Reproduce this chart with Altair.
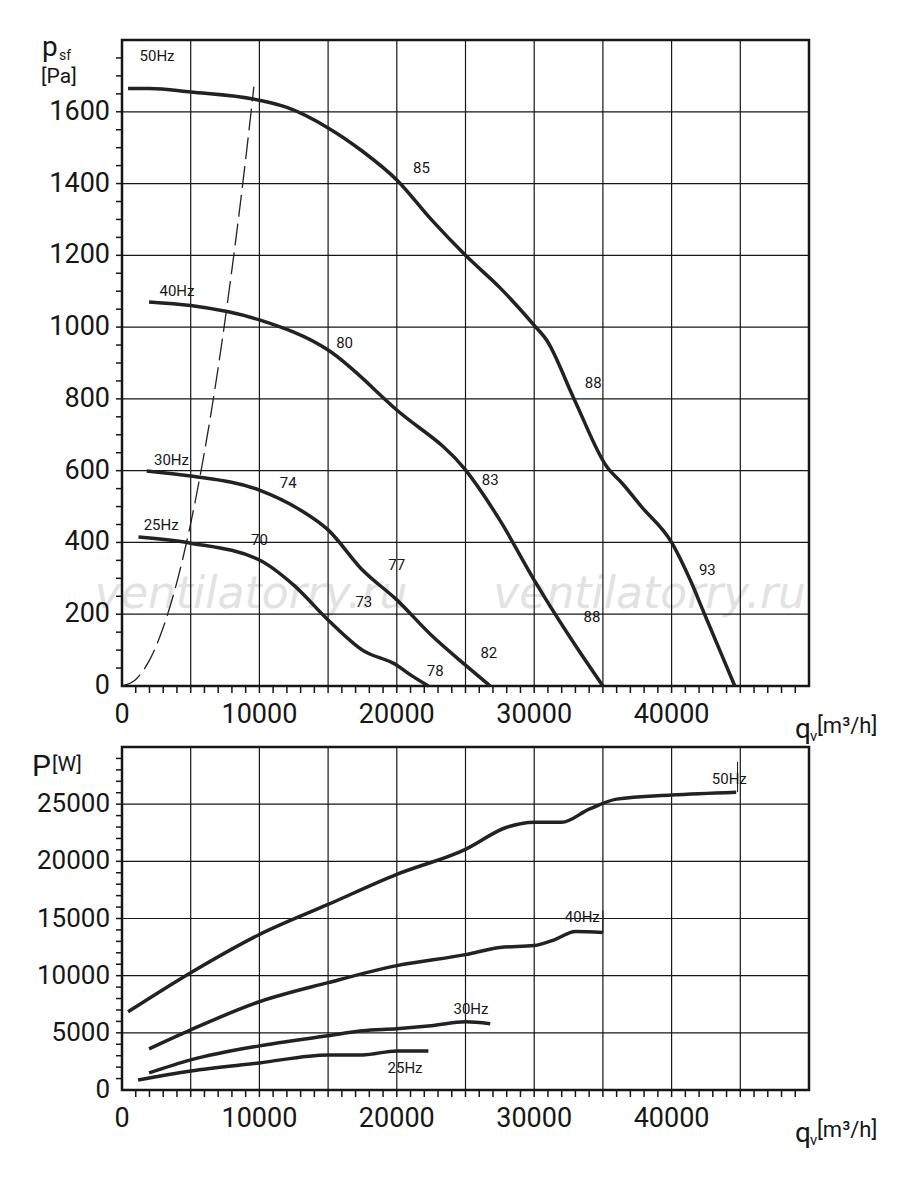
import pandas as pd
import altair as alt

FONT = "Roboto"

# --- pressure curves (q in m3/h, p in Pa) ---
q50 = [440, 2000, 5000, 10000, 12000, 15000, 17500, 20000, 22500, 25000, 27500, 30000, 30900, 32900, 35300, 36400, 37800, 40000, 41300, 42400, 44600]
p50 = [1665, 1665, 1655, 1632, 1612, 1555, 1490, 1410, 1300, 1200, 1110, 1005, 964, 800, 610, 565, 500, 400, 300, 200, 0]
q40 = [1970, 5000, 10000, 15000, 20000, 25000, 27500, 30000, 32500, 35000]
p40 = [1070, 1060, 1020, 936, 769, 602, 462, 295, 142, 0]
q30 = [1800, 5000, 10000, 13000, 15000, 17500, 20000, 22500, 25000, 26800]
p30 = [599, 585, 546, 490, 435, 323, 240, 142, 58, 0]
q25 = [1200, 5000, 10000, 12500, 15000, 17500, 20000, 21000, 22300]
p25 = [415, 398, 351, 281, 184, 100, 58, 31, 0]
q_sys = [0, 1000, 2000, 3000, 4000, 5000, 6000, 7000, 8000, 9000, 9600]
p_sys = [0, 18, 72, 163, 290, 453, 652, 887, 1160, 1468, 1670]

# --- power curves (W) ---
w50q = [440, 5000, 10000, 15000, 20000, 25000, 28000, 30000, 32000, 34000, 36000, 40000, 44700]
w50 = [6840, 10260, 13600, 16230, 18860, 21050, 22980, 23420, 23420, 24560, 25440, 25800, 26050]
w40q = [1970, 5000, 10000, 15000, 20000, 25000, 27500, 30000, 31500, 33000, 35000]
w40 = [3600, 5260, 7720, 9390, 10880, 11840, 12460, 12630, 13160, 13860, 13770]
w30q = [1970, 5000, 10000, 15000, 17500, 20000, 22500, 25000, 26800]
w30 = [1490, 2630, 3860, 4740, 5180, 5350, 5610, 5960, 5790]
w25q = [1170, 5000, 10000, 15000, 17500, 20000, 22300]
w25 = [880, 1670, 2370, 3070, 3070, 3420, 3420]

# labels
top_lbl_txt = ["50Hz", "40Hz", "30Hz", "25Hz", "85", "88", "93", "80", "83", "88", "74", "77", "82", "70", "73", "78"]
top_lbl_q = [2550, 4000, 3600, 2850, 21800, 34300, 42600, 16200, 26800, 34200, 12100, 20000, 26700, 10000, 17600, 22800]
top_lbl_p = [1755, 1100, 630, 448, 1443, 844, 323, 955, 574, 192, 565, 337, 92, 407, 234, 42]
bot_lbl_txt = ["50Hz", "40Hz", "30Hz", "25Hz"]
bot_lbl_q = [44200, 33500, 25400, 20600]
bot_lbl_w = [27200, 15090, 7100, 1930]
lead_q = [44800, 35000]
lead_w1 = [26050, 13770]
lead_w2 = [28700, 15700]

# axes
x_grid = [5000, 10000, 15000, 20000, 25000, 30000, 35000, 40000, 45000]
x_minor = [v for v in range(1000, 50000, 1000)]
x_labels = [0, 10000, 20000, 30000, 40000]
p_grid = [200, 400, 600, 800, 1000, 1200, 1400, 1600]
p_minor = [v for v in range(50, 1800, 50)]
p_labels = [0, 200, 400, 600, 800, 1000, 1200, 1400, 1600]
w_grid = [5000, 10000, 15000, 20000, 25000]
w_minor = [v for v in range(1000, 30000, 1000)]
w_labels = [0, 5000, 10000, 15000, 20000, 25000]

W = 687
H1 = 646
H2 = 343
INK = "#161616"

xs = alt.Scale(domain=[0, 50000], nice=False)


def txt(t, size, x, y, align="left", font=FONT):
    return alt.Chart(pd.DataFrame({"t": [t]})).mark_text(
        font=font, fontSize=size, align=align, color=INK).encode(
        x=alt.value(x), y=alt.value(y), text="t:N")


def panel(df, ymax, ygrid, yminor, ylabels, lbl_size, h):
    ys = alt.Scale(domain=[0, ymax], nice=False)
    xq = alt.X("q:Q", scale=xs, axis=None)
    yv = alt.Y("v:Q", scale=ys, axis=None)
    gx = alt.Chart(pd.DataFrame({"q": x_grid})).mark_rule(color=INK, strokeWidth=1.2).encode(
        x=xq, y=alt.value(0), y2=alt.value(h))
    gy = alt.Chart(pd.DataFrame({"v": ygrid})).mark_rule(color=INK, strokeWidth=1.2).encode(
        y=yv, x=alt.value(0), x2=alt.value(W))
    tx = alt.Chart(pd.DataFrame({"q": x_minor})).mark_rule(color=INK, strokeWidth=1.5).encode(
        x=xq, y=alt.value(h), y2=alt.value(h + 7))
    ty = alt.Chart(pd.DataFrame({"v": yminor})).mark_rule(color=INK, strokeWidth=1.5).encode(
        y=yv, x=alt.value(-6), x2=alt.value(0))
    lx = alt.Chart(pd.DataFrame({"q": x_labels})).mark_text(
        font=FONT, fontSize=27, color=INK, baseline="top", dy=16).encode(
        x=xq, y=alt.value(h), text=alt.Text("q:Q", format="d"))
    ly = alt.Chart(pd.DataFrame({"v": ylabels})).mark_text(
        font=FONT, fontSize=lbl_size, color=INK, align="right", baseline="middle", dx=-12).encode(
        y=yv, x=alt.value(0), text=alt.Text("v:Q", format="d"))
    box = alt.Chart(pd.DataFrame({"t": [0]})).mark_rect(filled=False, stroke=INK, strokeWidth=2.5).encode(
        x=alt.value(0), x2=alt.value(W), y=alt.value(0), y2=alt.value(h))
    lines = alt.Chart(df).mark_line(color="#222", strokeWidth=3.5, interpolate="monotone").encode(
        x=xq, y=yv, detail="s:N")
    ql = [txt("q", 28, W - 14, h + 44), txt("v", 15, W + 1, h + 50), txt("[m³/h]", 22, W + 8, h + 40)]
    return [gx, gy, tx, ty, lx, ly, box, lines] + ql, xq, yv


def frame(qs, vs, name):
    rows = []
    for s, q, v in zip(name, qs, vs):
        for a, b in zip(q, v):
            rows.append({"s": s, "q": a, "v": b})
    return pd.DataFrame(rows)


top_df = frame([q50, q40, q30, q25], [p50, p40, p30, p25], ["50", "40", "30", "25"])
top_layers, xq, yv = panel(top_df, 1800, p_grid, p_minor, p_labels, 27, H1)

wm = alt.Chart(pd.DataFrame({"t": ["ventilatorry.ru", "ventilatorry.ru"], "q": [9400, 38400], "v": [253, 253]})).mark_text(
    font="DejaVu Sans", fontSize=44, fontStyle="italic", color="#e2e2e2").encode(x=xq, y=yv, text="t:N")
sys_line = alt.Chart(pd.DataFrame({"q": q_sys, "v": p_sys})).mark_line(
    color="#222", strokeWidth=1.3, strokeDash=[22, 7], interpolate="monotone").encode(x=xq, y=yv)
top_text = alt.Chart(pd.DataFrame({"t": top_lbl_txt, "q": top_lbl_q, "v": top_lbl_p})).mark_text(
    font=FONT, fontSize=15, color=INK).encode(x=xq, y=yv, text="t:N")
top_deco = [txt("p", 28, -80, 8), txt("sf", 14, -63, 16), txt("[Pa]", 21, -81, 37)]
top = alt.layer(wm, *top_layers, sys_line, top_text, *top_deco).properties(width=W, height=H1)

bot_df = frame([w50q, w40q, w30q, w25q], [w50, w40, w30, w25], ["50", "40", "30", "25"])
bot_layers, xq, yv = panel(bot_df, 30000, w_grid, w_minor, w_labels, 26, H2)
bot_text = alt.Chart(pd.DataFrame({"t": bot_lbl_txt, "q": bot_lbl_q, "v": bot_lbl_w})).mark_text(
    font=FONT, fontSize=15, color=INK).encode(x=xq, y=yv, text="t:N")
leads = alt.Chart(pd.DataFrame({"q": lead_q, "v": lead_w1, "v2": lead_w2})).mark_rule(
    color=INK, strokeWidth=1).encode(x=xq, y=yv, y2="v2:Q")
bot_deco = [txt("P", 30, -90, 20), txt("[W]", 21, -70, 18)]
bottom = alt.layer(*bot_layers, leads, bot_text, *bot_deco).properties(width=W, height=H2)

chart = alt.vconcat(top, bottom, spacing=0).configure_view(strokeWidth=0).configure(
    padding={"left": 23, "top": 25, "right": 5, "bottom": 5}, background="white")

chart.save("out.html", embed_options={"renderer": "svg", "actions": False})
